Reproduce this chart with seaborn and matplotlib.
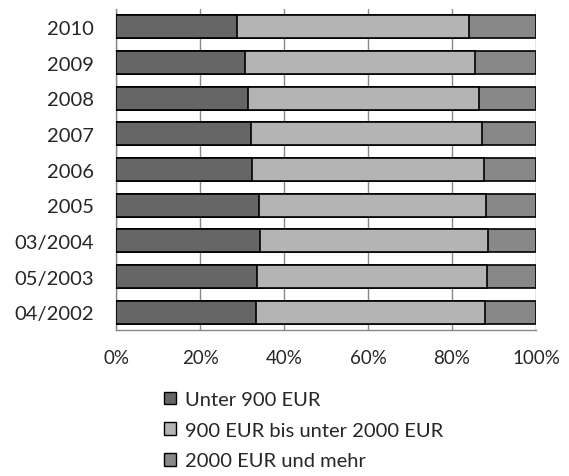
import pandas as pd
import matplotlib
matplotlib.use("Agg")
import matplotlib.pyplot as plt
import seaborn as sns
from matplotlib.patches import Patch

# Werte (Anteile in %)
jahre = ["2010", "2009", "2008", "2007", "2006", "2005", "03/2004", "05/2003", "04/2002"]
unter_900 = [28.9, 30.7, 31.3, 32.2, 32.4, 34.1, 34.2, 33.6, 33.3]
mitte = [55.2, 54.7, 55.1, 54.9, 55.3, 54.0, 54.3, 54.7, 54.6]
ueber_2000 = [15.9, 14.6, 13.6, 12.9, 12.3, 11.9, 11.5, 11.7, 12.1]
serien = ["Unter 900 EUR", "900 EUR bis unter 2000 EUR", "2000 EUR und mehr"]
farben = ["#666666", "#b4b4b4", "#888888"]

df = pd.DataFrame({"Jahr": jahre, "a": unter_900, "b": mitte, "c": ueber_2000})
df["cum1"] = df["a"]
df["cum2"] = df["a"] + df["b"]
df["cum3"] = df["a"] + df["b"] + df["c"]

sns.set_style("white")
plt.rcParams["font.family"] = ["Lato", "DejaVu Sans"]

fig = plt.figure(figsize=(5.69, 4.77), dpi=100)
ax = fig.add_axes([0.204, 0.306, 0.738, 0.673])

# gestapelt: zuerst Summe, dann Teilsummen darüber
for col, farbe in zip(["cum3", "cum2", "cum1"], farben[::-1]):
    sns.barplot(data=df, x=col, y="Jahr", order=jahre, orient="h", color=farbe,
                width=0.64, edgecolor="black", linewidth=1.2, saturation=1,
                ax=ax, zorder=3)

ax.set_xlim(0, 100)
ax.set_xticks([0, 20, 40, 60, 80, 100])
ax.set_xticklabels(["0%", "20%", "40%", "60%", "80%", "100%"])
ax.set_xlabel("")
ax.set_ylabel("")
ax.grid(axis="x", color="#888888", linewidth=1.0, zorder=0)
ax.set_axisbelow(True)
ax.tick_params(axis="x", length=0, pad=14, labelsize=13.5)
ax.tick_params(axis="y", length=0, pad=16, labelsize=14.5)
for s in ["top", "right"]:
    ax.spines[s].set_visible(False)
for s in ["left", "bottom"]:
    ax.spines[s].set_color("#888888")
    ax.spines[s].set_linewidth(1.0)

handles = [Patch(facecolor=f, edgecolor="black", linewidth=1.0) for f in farben]
fig.legend(handles, serien, loc="upper left", bbox_to_anchor=(0.288, 0.178),
           frameon=False, fontsize=14.5, handlelength=0.6, handleheight=0.6,
           handletextpad=0.45, labelspacing=0.68, borderpad=0, borderaxespad=0)

fig.savefig("out.png", dpi=100)
